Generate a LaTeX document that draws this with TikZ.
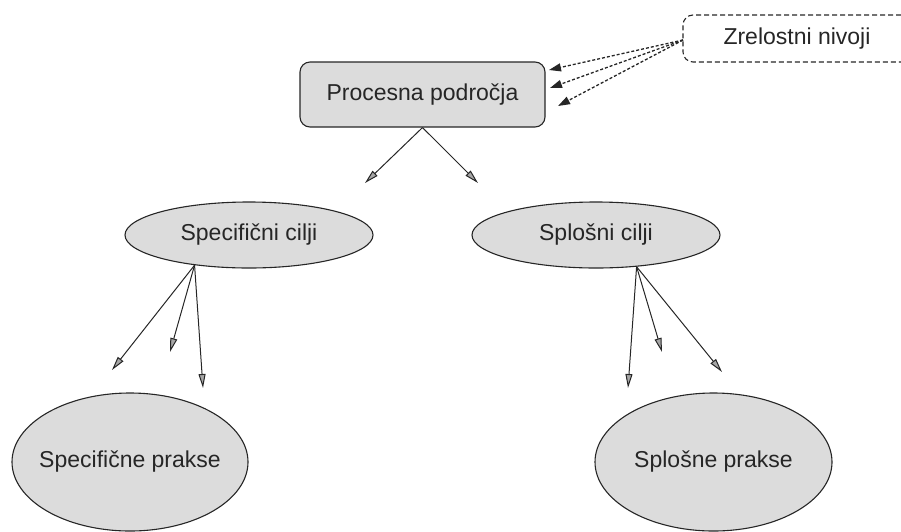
\documentclass[tikz,border=0pt]{standalone}
\usepackage{fontspec}
\setmainfont{Liberation Sans}
\usetikzlibrary{shapes.geometric,arrows.meta}
\definecolor{boxfill}{HTML}{DCDCDC}
\definecolor{ink}{HTML}{262626}
\begin{document}
\begin{tikzpicture}[x=1pt,y=-1pt,
  every node/.style={font=\fontsize{23}{27}\selectfont, text=ink},
  oval/.style={ellipse, draw=ink, line width=1.1pt, fill=boxfill, inner sep=0pt},
  areabox/.style={rectangle, rounded corners=10pt, draw=ink, line width=1.1pt, fill=boxfill,
    minimum width=245pt, minimum height=65pt},
  levelbox/.style={rectangle, rounded corners=10pt, draw=ink, line width=1.1pt,
    dash pattern=on 5pt off 3pt, minimum width=228pt, minimum height=47pt},
  link/.style={draw=ink, line width=1pt,
    -{Triangle[length=14pt,width=7pt,fill=gray!70]}},
  dlink/.style={draw=ink, line width=1.3pt, dash pattern=on 3pt off 2pt,
    -{Triangle[length=12pt,width=8pt,fill=ink]}}
]
\useasboundingbox (0,0) rectangle (901,531);

% nodes
\node[areabox] (proc) at (422.5,94.5) {Procesna področja};
\node[levelbox] (zrel) at (797,38.5) {Zrelostni nivoji};
\node[oval, minimum width=248pt, minimum height=66pt] (spec) at (249,235) {Specifični cilji};
\node[oval, minimum width=248pt, minimum height=66pt] (splo) at (596,235) {Splošni cilji};
\node[oval, inner xsep=-12pt, minimum width=236pt, minimum height=138pt] (specp) at (130,462) {Specifične prakse};
\node[oval, inner xsep=-4pt, minimum width=237pt, minimum height=138pt] (splop) at (713.5,462) {Splošne prakse};

% free ends of the arrows
\coordinate (p1) at (365,183);
\coordinate (p2) at (478,183);
\coordinate (s1) at (112,370);
\coordinate (s2) at (170,352);
\coordinate (s3) at (203,388);
\coordinate (g1) at (628,388);
\coordinate (g2) at (662,352);
\coordinate (g3) at (722,372);
\coordinate (z1) at (549,70);
\coordinate (z2) at (550,88);
\coordinate (z3) at (558,106);
\coordinate (zs) at (683,40);

% connectors
\draw[link] (proc.south) -- (p1);
\draw[link] (proc.south) -- (p2);
\draw[link] (spec.209.5) -- (s1);
\draw[link] (spec.209.5) -- (s2);
\draw[link] (spec.209.5) -- (s3);
\draw[link] (splo.-38) -- (g1);
\draw[link] (splo.-38) -- (g2);
\draw[link] (splo.-38) -- (g3);
\draw[dlink] (zs) -- (z1);
\draw[dlink] (zs) -- (z2);
\draw[dlink] (zs) -- (z3);
\end{tikzpicture}
\end{document}
